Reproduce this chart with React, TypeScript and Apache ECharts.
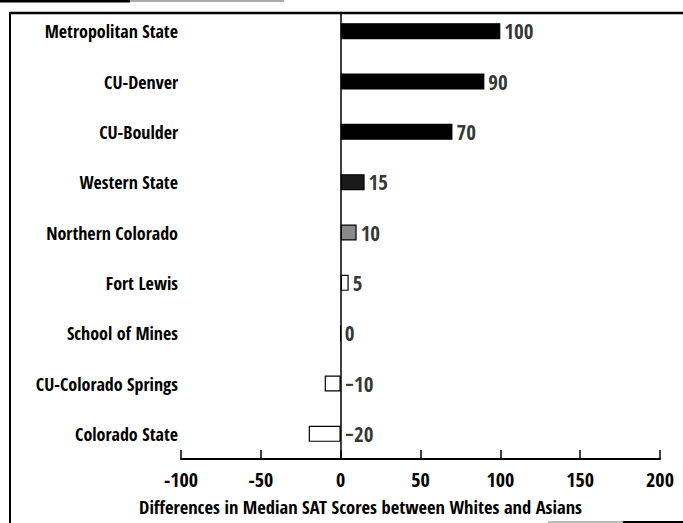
import React, { useEffect, useRef } from "react";
import * as echarts from "echarts";

const categories = [
  "Metropolitan State",
  "CU-Denver",
  "CU-Boulder",
  "Western State",
  "Northern Colorado",
  "Fort Lewis",
  "School of Mines",
  "CU-Colorado Springs",
  "Colorado State",
];
const values = [100, 90, 70, 15, 10, 5, 0, -10, -20];
const fills = ["#000", "#000", "#000", "#1a1a1a", "#8a8a8a", "#fff", "#fff", "#fff", "#fff"];
const xTicks = { min: -100, max: 200, interval: 50 };
const axisTitle = "Differences in Median SAT Scores between Whites and Asians";

const FONT = "'Open Sans Condensed', 'Roboto Condensed', sans-serif";

export default function App() {
  const ref = useRef<HTMLDivElement>(null);
  useEffect(() => {
    if (!ref.current) return;
    const chart = echarts.init(ref.current, null, { renderer: "svg" });
    const cats = [...categories].reverse();
    const vals = [...values].reverse();
    const cols = [...fills].reverse();
    chart.setOption({
      animation: false,
      backgroundColor: "#fff",
      grid: { left: 181, right: 23, top: 6, bottom: 64, containLabel: false, outerBoundsMode: "none" },
      xAxis: {
        type: "value",
        min: xTicks.min,
        max: xTicks.max,
        interval: xTicks.interval,
        name: axisTitle,
        nameLocation: "middle",
        nameGap: 38,
        nameTextStyle: {
          color: "#000",
          fontFamily: FONT,
          fontWeight: "bold",
          fontSize: 18.5,
          padding: [0, 120, 0, 0],
        },
        axisLine: { show: true, onZero: false, lineStyle: { color: "#000", width: 2 } },
        axisTick: { show: true, inside: true, length: 9, lineStyle: { color: "#000", width: 1.5 } },
        splitLine: { show: false },
        axisLabel: {
          color: "#000",
          fontFamily: FONT,
          fontWeight: "bold",
          fontSize: 20,
          margin: 10,
        },
      },
      yAxis: {
        type: "category",
        data: cats,
        axisLine: { show: false },
        axisTick: { show: false },
        splitLine: { show: false },
        axisLabel: {
          color: "#000",
          fontFamily: FONT,
          fontWeight: "bold",
          fontSize: 18,
          margin: 3,
          padding: [12, 0, 0, 0],
        },
      },
      series: [
        {
          type: "bar",
          barWidth: 16,
          data: vals.map((v, i) => ({
            value: v,
            itemStyle: { color: cols[i], borderColor: "#000", borderWidth: 1.2 },
          })),
          markLine: {
            silent: true,
            symbol: "none",
            label: { show: false },
            lineStyle: { color: "#000", width: 1.5, type: "solid" },
            data: [{ xAxis: 0 }],
          },
        },
        {
          type: "scatter",
          symbolSize: 0,
          data: vals.map((v) => Math.max(v, 0)),
          label: {
            show: true,
            position: "right",
            distance: 4,
            color: "#000",
            fontFamily: FONT,
            fontWeight: "bold",
            fontSize: 21,
            formatter: (p: any) => {
              const v = vals[p.dataIndex];
              return v < 0 ? "\u2212" + Math.abs(v) : String(v);
            },
          },
        },
      ],
      graphic: [
        { type: "rect", z: 100, shape: { x: 11, y: 0, width: 672, height: 12 }, style: { fill: "#fff" } },
        { type: "line", z: 101, shape: { x1: 10, y1: 13, x2: 683, y2: 13 }, style: { stroke: "#000", lineWidth: 2.5 } },
        { type: "line", z: 101, shape: { x1: 10, y1: 12, x2: 10, y2: 523 }, style: { stroke: "#000", lineWidth: 2 } },
        { type: "line", z: 101, shape: { x1: 0, y1: 1, x2: 130, y2: 1 }, style: { stroke: "#000", lineWidth: 3 } },
        { type: "line", z: 101, shape: { x1: 130, y1: 1, x2: 284, y2: 1 }, style: { stroke: "#aaa", lineWidth: 2 } },
        { type: "line", z: 101, shape: { x1: 548, y1: 522, x2: 623, y2: 522 }, style: { stroke: "#bbb", lineWidth: 2 } },
        { type: "line", z: 101, shape: { x1: 623, y1: 522, x2: 683, y2: 522 }, style: { stroke: "#000", lineWidth: 2 } },
      ],
    });
    return () => chart.dispose();
  }, []);
  return <div ref={ref} style={{ width: 683, height: 523, position: "fixed", left: 0, top: 0 }} />;
}
